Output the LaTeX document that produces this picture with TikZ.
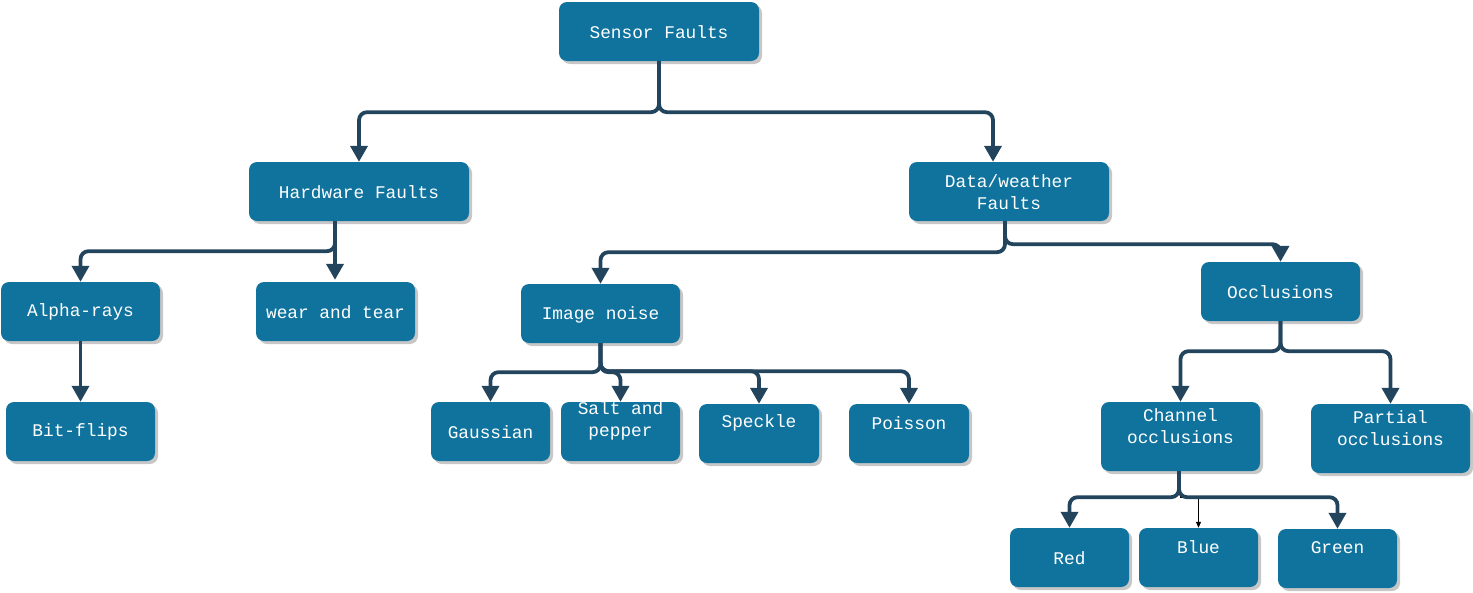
\documentclass[tikz,border=0pt]{standalone}
\usepackage{fontspec}
\setmonofont{Liberation Mono}
\usetikzlibrary{arrows.meta,shadows}
\definecolor{boxfill}{HTML}{10739E}
\definecolor{linec}{HTML}{23445D}
\newcommand\mybox[7]{%
  \node[box,minimum width=#4pt,minimum height=#5pt] (#1) at (#2,#3) {};
  \node[txt] (#1t) at (#2,#6) {#7};}
\begin{document}
\begin{tikzpicture}[x=1pt,y=-1pt,
 box/.style={fill=boxfill, draw=none, rounded corners=8pt, inner sep=0pt,
   drop shadow={shadow xshift=3pt,shadow yshift=-3pt,fill=black!22,opacity=1}},
 txt/.style={text=white, font=\ttfamily\fontsize{17.8}{22}\selectfont, align=center, inner sep=0pt},
 conn/.style={draw=linec, line width=3.8pt, rounded corners=8pt, -{Triangle[width=17pt,length=16pt]}},
 thinconn/.style={draw=black, line width=1pt, -{Triangle[width=5pt,length=6pt]}}
]
\useasboundingbox (0,0) rectangle (1473,592);
\mybox{S}{659}{31.5}{200}{59}{32}{Sensor Faults}
\mybox{HW}{359}{191.5}{220}{59}{192}{Hardware Faults}
\mybox{DW}{1009}{191.5}{200}{59}{192}{Data/weather\\Faults}
\mybox{AR}{80.5}{311.5}{159}{59}{312}{Alpha-rays}
\mybox{WT}{335.5}{311.5}{159}{59}{312}{wear and tear}
\mybox{IN}{600.5}{313.5}{159}{59}{315}{Image noise}
\mybox{OC}{1280.5}{291.5}{159}{59}{292}{Occlusions}
\mybox{BF}{80.5}{431.5}{149}{59}{432}{Bit-flips}
\mybox{GA}{490.5}{431.5}{119}{59}{432}{Gaussian}
\mybox{SP}{620.5}{431.5}{119}{59}{421}{Salt and\\pepper}
\mybox{SK}{759}{433.5}{120}{59}{423}{Speckle}
\mybox{PO}{909}{433.5}{120}{59}{423}{Poisson}
\mybox{CH}{1180.5}{436.5}{159}{69}{426}{Channel\\occlusions}
\mybox{PA}{1390.5}{438.5}{159}{69}{428}{Partial\\occlusions}
\mybox{RE}{1069.5}{557.5}{119}{59}{558}{Red}
\mybox{BL}{1198.5}{557.5}{119}{59}{547}{Blue}
\mybox{GR}{1337.5}{558.5}{119}{59}{548}{Green}
% connectors
\draw[thinconn] (CH.south) -- ++(0,26) -| (BL.north);
\draw[conn] (S.south) -- ++(0,51) -| (HW.north);
\draw[conn] (S.south) -- ++(0,51) -| ([xshift=-16pt]DW.north);
\draw[conn] ([xshift=-24pt]HW.south) -- ++(0,30) -| (AR.north);
\draw[conn] ([xshift=-24pt]HW.south) -- ([xshift=-24pt,yshift=2pt]HW.south |- WT.north);
\draw[conn] ([xshift=-4pt]DW.south) -- ++(0,31) -| (IN.north);
\draw[conn] ([xshift=-4pt]DW.south) -- ++(0,23) -| (OC.north);
\draw[conn] (AR.south) -- (BF.north);
\draw[conn] (IN.south) -- ++(0,29) -| (GA.north);
\draw[conn] (IN.south) -- ++(0,29) -| (SP.north);
\draw[conn] (IN.south) -- ++(0,28) -| (SK.north);
\draw[conn] (IN.south) -- ++(0,28) -| (PO.north);
\draw[conn] (OC.south) -- ++(0,30) -| (CH.north);
\draw[conn] (OC.south) -- ++(0,30) -| (PA.north);
\draw[conn] ([xshift=-1.5pt]CH.south) -- ++(0,26) -| (RE.north);
\draw[conn] ([xshift=-1.5pt]CH.south) -- ++(0,26) -| (GR.north);
\end{tikzpicture}
\end{document}
